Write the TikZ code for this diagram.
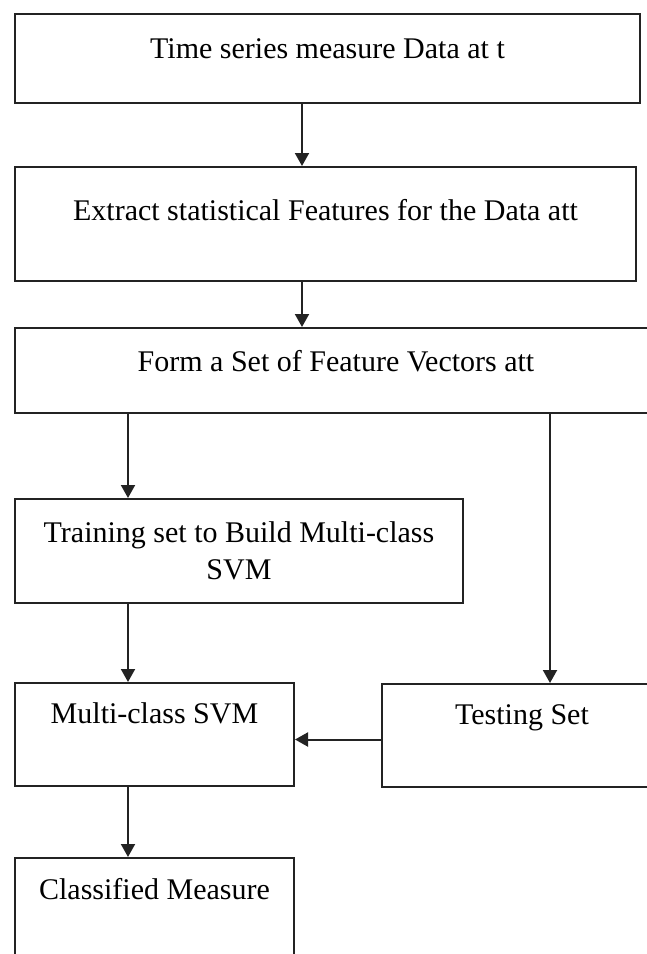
\documentclass[tikz,border=0pt]{standalone}
\usepackage{fontspec}
\setmainfont{Liberation Serif}
\usepackage{xcolor}
\definecolor{boxline}{RGB}{35,35,35}
\usetikzlibrary{arrows.meta,positioning}

\begin{document}
\begin{tikzpicture}[x=1pt,y=-1pt,
  font=\fontsize{30pt}{37pt}\selectfont,
  stage/.style={draw=boxline,line width=2pt,inner sep=0pt,anchor=north west},
  flow/.style={draw=boxline,line width=2pt,-{Triangle[length=13pt,width=14pt]}}]
  \useasboundingbox (0,0) rectangle (646,954);
  \node[stage,minimum width=625pt,text height=44pt,text depth=45pt] (time) at (14,13) {Time series measure Data at t};
  \node[stage,minimum width=621pt,text height=53pt,text depth=61pt] (extract) at (14,166) {Extract statistical Features for the Data att};
  \node[stage,minimum width=642pt,text height=43pt,text depth=42pt] (form) at (14,327) {Form a Set of Feature Vectors att};
  \node[stage,minimum width=448pt,minimum height=104pt,align=center] (train) at (14,498) {Training set to Build Multi-class\\SVM};
  \node[stage,minimum width=279pt,text height=40pt,text depth=63pt] (svm) at (14,682) {Multi-class SVM};
  \node[stage,minimum width=280pt,text height=40pt,text depth=63pt] (test) at (381,683) {Testing Set};
  \node[stage,minimum width=279pt,text height=41pt,text depth=69pt] (result) at (14,857) {Classified Measure};
  \draw[flow] ([xshift=288pt]time.south west) -- ([xshift=288pt]extract.north west);
  \draw[flow] ([xshift=288pt]extract.south west) -- ([xshift=288pt]form.north west);
  \draw[flow] ([xshift=114pt]form.south west) -- ([xshift=114pt]train.north west);
  \draw[flow] ([xshift=536pt]form.south west) -- ([xshift=169pt]test.north west);
  \draw[flow] ([xshift=114pt]train.south west) -- ([xshift=114pt]svm.north west);
  \draw[flow] ([yshift=-4pt]test.west) -- ([yshift=-4pt]test.west -| svm.east);
  \draw[flow] ([xshift=114pt]svm.south west) -- ([xshift=114pt]result.north west);
\end{tikzpicture}
\end{document}
